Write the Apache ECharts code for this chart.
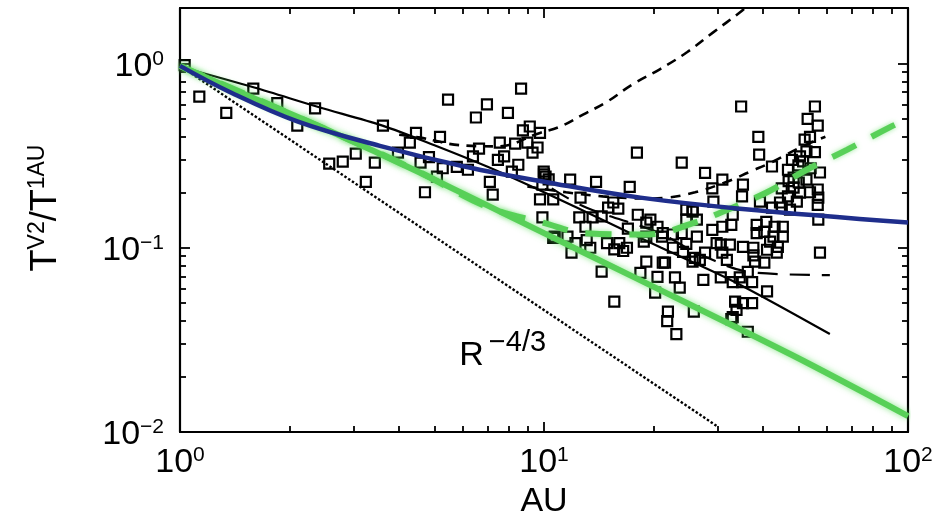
<!DOCTYPE html>
<html>
<head>
<meta charset="utf-8">
<script src="https://cdn.jsdelivr.net/npm/echarts@6/dist/echarts.min.js"></script>
<style>
html,body{margin:0;padding:0;background:#fff;}
#c{width:941px;height:521px;}
</style>
</head>
<body>
<div id="c"></div>
<script>
// ---- tick values ----
var xMajorTicks = [1, 10, 100];
var xMinorTicks = [2,3,4,5,6,7,8,9,20,30,40,50,60,70,80,90];
var yMajorTicks = [0.01, 0.1, 1];
var yMinorTicks = [0.02,0.03,0.04,0.05,0.06,0.07,0.08,0.09,0.2,0.3,0.4,0.5,0.6,0.7,0.8,0.9];

// ---- observed data (AU, T/T1AU) ----
var observations = [
[1.03,0.98],[1.13,0.66],[1.34,0.54],[1.59,0.73],[1.85,0.61],[2.1,0.46],[2.35,0.57],
[2.57,0.286],[2.8,0.293],[3.04,0.324],[3.24,0.228],[3.43,0.29],[3.61,0.46],[3.97,0.328],
[4.28,0.372],[4.45,0.42],[4.58,0.29],[4.71,0.2],[4.83,0.31],[5.08,0.243],[5.18,0.40],
[5.27,0.27],[5.45,0.637],[5.76,0.275],[6.18,0.265],[6.38,0.313],[6.5,0.509],[6.63,0.345],
[6.97,0.60],[7.1,0.228],[7.23,0.194],[7.47,0.30],[7.56,0.372],[7.77,0.313],[7.96,0.54],
[8.16,0.259],[8.33,0.367],[8.5,0.282],[8.65,0.73],[8.75,0.433],[9.0,0.372],[9.14,0.455],
[9.3,0.328],[9.6,0.35],[9.75,0.42],[9.98,0.259],[10.1,0.243],[9.75,0.183],[9.9,0.146],
[10.6,0.183],[10.6,0.113],[10.0,0.25],[10.3,0.235],[9.9,0.22],[10.7,0.115],
[11.8,0.234],[13.9,0.228],[17.2,0.214],[18.0,0.328],[23.9,0.29],[12.6,0.187],[12.5,0.146],
[13.0,0.13],[13.6,0.146],[14.4,0.148],[15.0,0.165],[15.5,0.176],[16.0,0.163],[14.9,0.106],
[16.1,0.106],[15.6,0.098],[16.5,0.096],[16.9,0.1],[11.6,0.115],[12.2,0.106],[11.9,0.094],
[13.1,0.11],[13.4,0.1],[14.4,0.0742],[18.1,0.151],[19.1,0.137],[19.6,0.142],[20.5,0.13],
[21.1,0.115],[19.1,0.084],[21.2,0.083],[18.4,0.073],[17.0,0.127],[19.1,0.115],[24.6,0.161],
[25.6,0.16],[24.6,0.142],[26.3,0.142],[22.6,0.118],[23.9,0.12],[18.8,0.108],[21.2,0.12],
[22.6,0.1],[24.1,0.095],[26,0.088],[24.6,0.105],[21.5,0.083],[20.5,0.0695],[22.9,0.069],
[23.6,0.0607],[20.2,0.057],[15.6,0.051],[21.9,0.045],[21.8,0.04],[25.8,0.045],[23.1,0.034],
[34.8,0.584],[55.5,0.584],[53,0.50],[56.5,0.46],[38.8,0.40],[52,0.386],[53.8,0.40],
[39,0.32],[27.7,0.255],[30.9,0.234],[35.2,0.22],[42.3,0.276],[29,0.21],[35,0.19],
[46.8,0.265],[50.5,0.313],[52.6,0.333],[55.5,0.33],[51.5,0.294],[48.5,0.24],[50.1,0.226],
[52.6,0.234],[56.5,0.207],[57.3,0.256],[48.5,0.212],[50.5,0.199],[53.8,0.2],[56.7,0.187],
[56.5,0.171],[46.8,0.19],[44.5,0.176],[49.5,0.178],[56.7,0.142],[57.3,0.094],[39.2,0.178],
[42.3,0.165],[45,0.165],[47.4,0.161],[25.6,0.157],[29.2,0.178],[33,0.151],[32.7,0.133],
[38.4,0.133],[40.8,0.138],[43,0.13],[45.3,0.13],[38.4,0.12],[40.3,0.122],[42.7,0.115],
[45.3,0.115],[41.8,0.108],[43.9,0.101],[41,0.0975],[26.3,0.115],[29,0.125],[30.9,0.13],
[29.8,0.106],[30.6,0.104],[32.4,0.104],[35.2,0.101],[37.6,0.1],[27.7,0.094],[30.9,0.094],
[37.6,0.091],[43.6,0.094],[25.6,0.084],[26.8,0.086],[31.8,0.086],[38,0.084],[40.3,0.083],
[27.4,0.067],[30.6,0.069],[34.5,0.069],[36.3,0.074],[33,0.065],[35,0.065],[37.3,0.065],
[41,0.058],[33.5,0.051],[35.2,0.05],[37.3,0.05],[33.8,0.046],[33,0.042],[32.7,0.041],
[36.3,0.035],[48,0.3],[50,0.28],[54,0.27],[45,0.21],[47,0.23]
];

// ---- model curves ----
var blackSolid = [[1,0.96],[1.6,0.74],[2.4,0.58],[3.6,0.46],[5,0.36],[7,0.275],[10,0.2],[15,0.137],[21,0.1],[33,0.066],[61,0.034]];
var blackDashUp = [[4.0,0.41],[4.57,0.396],[5.89,0.36],[7.44,0.355],[9.75,0.42],[11.06,0.454],[12.8,0.528],[14.9,0.62],[17.5,0.77],[20.8,0.93],[24.7,1.15],[29.1,1.47],[34.5,1.89],[35.7,2.0]];
var blackDashMid = [[9,0.215],[11.5,0.2],[14.5,0.19],[19,0.185],[21.8,0.187],[26,0.2],[31.8,0.228],[36.7,0.258],[42.5,0.293],[50.5,0.35],[59.3,0.40]];
var blackDashLow = [[10.5,0.21],[13.1,0.165],[20.8,0.12],[26.8,0.092],[38.5,0.073],[61,0.071]];
var powerLaw = [[1,0.97],[30,0.0107]];
var greenSolid = [[1,0.97],[1.56,0.66],[2.58,0.43],[4.57,0.255],[10,0.12],[17.6,0.0695],[48.3,0.026],[100,0.0122]];
var greenDash = [[1,0.97],[2.58,0.43],[4.5,0.26],[6.97,0.167],[9.9,0.137],[13.1,0.12],[19.2,0.118],[26.3,0.138],[30.5,0.155],[41,0.2],[52.7,0.265],[67.9,0.34],[89,0.45],[100,0.5]];
var blueSolid = [[1,0.97],[1.37,0.70],[2.1,0.485],[3.54,0.357],[6,0.277],[10.8,0.222],[18.4,0.187],[34.5,0.163],[100,0.137]];
var powerLabelPos = [[7.7,0.027]];

var FONT = 'Liberation Sans';
var rich = {
  b: {fontSize: 34, fontFamily: FONT, color: '#000', verticalAlign: 'bottom', lineHeight: 40},
  s: {fontSize: 21, fontFamily: FONT, color: '#000', verticalAlign: 'bottom', lineHeight: 40, padding: [0,0,14,0]}
};
var richTitle = {
  b: {fontSize: 36, fontFamily: FONT, color: '#000', verticalAlign: 'bottom', lineHeight: 42},
  s: {fontSize: 23, fontFamily: FONT, color: '#000', verticalAlign: 'bottom', lineHeight: 42, padding: [0,0,15,0]}
};
function expLabel(v){
  var e = Math.round(Math.log10(v));
  return '{b|10}{s|' + (e < 0 ? '\u2212' + (-e) : e) + '}';
}

function makeAxis(dim, pos, ticks, len, showLine, showLabel, extra){
  var isX = dim === 'x';
  var a = {
    type: 'log', logBase: 10, position: pos,
    min: isX ? 1 : 0.01, max: isX ? 100 : 2,
    axisLine: {show: showLine, lineStyle: {color: '#000', width: 2.2}},
    axisTick: {show: true, inside: true, length: len, customValues: ticks, lineStyle: {color: '#000', width: 1.8}},
    axisLabel: showLabel ? {show: true, customValues: ticks, formatter: expLabel, rich: rich, margin: isX ? 8 : 16} : {show: false},
    splitLine: {show: false},
    minorTick: {show: false}
  };
  if (extra) for (var k in extra) a[k] = extra[k];
  return a;
}

var chart = echarts.init(document.getElementById('c'), null, {renderer: 'canvas'});
chart.setOption({
  animation: false,
  backgroundColor: '#fff',
  grid: {left: 180, right: 33, top: 8, bottom: 89, containLabel: false, outerBoundsMode: 'none'},
  xAxis: [
    makeAxis('x', 'bottom', xMajorTicks, 10, true, true, {
      name: 'AU', nameLocation: 'middle', nameGap: 45,
      nameTextStyle: {fontSize: 34, fontFamily: FONT, color: '#000'}
    }),
    makeAxis('x', 'top', xMajorTicks, 10, true, false),
    makeAxis('x', 'bottom', xMinorTicks, 6, false, false),
    makeAxis('x', 'top', xMinorTicks, 6, false, false)
  ],
  yAxis: [
    makeAxis('y', 'left', yMajorTicks, 10, true, true, {
      name: '{b|T}{s|V2}{b|/T}{s|1AU}', nameLocation: 'middle', nameGap: 116, nameRotate: 90,
      nameTextStyle: {rich: richTitle, padding: [0, 0, 0, 24]}
    }),
    makeAxis('y', 'right', yMajorTicks, 10, true, false),
    makeAxis('y', 'left', yMinorTicks, 6, false, false),
    makeAxis('y', 'right', yMinorTicks, 6, false, false)
  ],
  series: [
    {type: 'scatter', data: observations, symbol: 'rect', symbolSize: 10,
     itemStyle: {color: 'rgba(255,255,255,0)', borderColor: '#000', borderWidth: 2.2, opacity: 1}, z: 2},
    {type: 'line', data: powerLaw, showSymbol: false,
     lineStyle: {color: '#000', width: 2.4, type: [2.5, 2]}, z: 3},
    {type: 'line', data: blackSolid, showSymbol: false, smooth: 0.3,
     lineStyle: {color: '#000', width: 2.2}, z: 3},
    {type: 'line', data: blackDashUp, showSymbol: false, smooth: 0.4,
     lineStyle: {color: '#000', width: 2.6, type: [10, 7]}, z: 3},
    {type: 'line', data: blackDashMid, showSymbol: false, smooth: 0.4,
     lineStyle: {color: '#000', width: 2.6, type: [10, 8]}, z: 3},
    {type: 'line', data: blackDashLow, showSymbol: false, smooth: 0.4,
     lineStyle: {color: '#000', width: 2.2, type: [20, 12]}, z: 3},
    {type: 'line', data: greenDash, showSymbol: false, smooth: 0.4,
     lineStyle: {color: '#58d058', width: 6, type: [26, 18], shadowColor: 'rgba(90,220,90,0.6)', shadowBlur: 5}, z: 4},
    {type: 'line', data: greenSolid, showSymbol: false, smooth: 0.3,
     lineStyle: {color: '#58d058', width: 6, shadowColor: 'rgba(90,220,90,0.7)', shadowBlur: 6}, z: 4},
    {type: 'line', data: blueSolid, showSymbol: false, smooth: 0.4,
     lineStyle: {color: '#1f2e8c', width: 4.5}, z: 5},
    {type: 'scatter', data: powerLabelPos, symbolSize: 0, silent: true,
     itemStyle: {opacity: 1},
     label: {show: true, position: 'inside', formatter: '{r|R}{p|\u22124/3}',
       rich: {
         r: {fontSize: 34, fontFamily: FONT, color: '#000', verticalAlign: 'bottom', lineHeight: 40},
         p: {fontSize: 29, fontFamily: FONT, color: '#000', verticalAlign: 'bottom', lineHeight: 40, padding: [0,0,15,5]}
       }}, z: 6}
  ]
});
</script>
</body>
</html>
